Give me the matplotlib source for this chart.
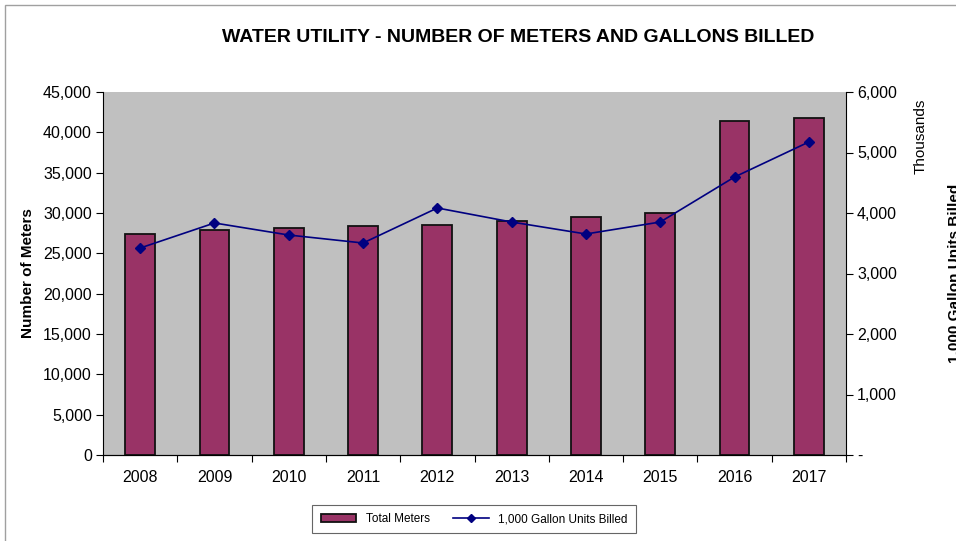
import matplotlib.pyplot as plt
import numpy as np
from matplotlib.ticker import FuncFormatter, FixedLocator
from matplotlib.lines import Line2D
from matplotlib.patches import Patch, Rectangle

plt.rcParams['font.family'] = ['Liberation Sans', 'DejaVu Sans']

years = ['2008', '2009', '2010', '2011', '2012', '2013', '2014', '2015', '2016', '2017']
total_meters = [27400, 27900, 28180, 28350, 28550, 29000, 29500, 29960, 41440, 41810]
# 1,000 gallon units billed (shown on the right axis in thousands)
units_billed = [3421000, 3835000, 3636000, 3504000, 4083000, 3851000, 3653000, 3851000, 4595000, 5174000]

fig = plt.figure(figsize=(9.56, 5.41), dpi=100)

# outer chart border (runs off the right / bottom edges)
fig.patches.append(Rectangle((5 / 956, -0.05), 1.2, (541 - 5) / 541 + 0.05,
                             transform=fig.transFigure, fill=False,
                             edgecolor='#a0a0a0', linewidth=1.0))

ax = fig.add_axes([103 / 956, 86 / 541, 743 / 956, 363 / 541])
ax.set_facecolor('#c0c0c0')

x = np.arange(len(years))
ax.bar(x, total_meters, width=0.4, color='#993366', edgecolor='#111111',
       linewidth=1.3, zorder=2)

ax.set_xlim(-0.5, len(years) - 0.5)
ax.set_ylim(0, 45000)
ax.set_yticks(np.arange(0, 45001, 5000))
ax.yaxis.set_major_formatter(FuncFormatter(lambda v, p: f'{int(v):,}'))
ax.set_xticks(x)
ax.set_xticklabels(years)
ax.xaxis.set_minor_locator(FixedLocator(np.arange(-0.5, len(years), 1.0)))
ax.tick_params(axis='x', which='major', length=0, pad=11, labelsize=11.5)
ax.tick_params(axis='x', which='minor', length=5, direction='out', width=0.8)
ax.tick_params(axis='y', length=5, direction='out', width=0.8, labelsize=11.5, pad=3)
ax.spines['top'].set_visible(False)
ax.spines['right'].set_visible(False)
ax.set_ylabel('Number of Meters', fontsize=11, fontweight='bold', labelpad=6)

ax2 = ax.twinx()
ax2.plot(x, np.array(units_billed) / 1000, color='#000080', linewidth=1.2,
         marker='D', markersize=5, zorder=3)
ax2.set_ylim(0, 6000)
ax2.set_yticks(np.arange(0, 6001, 1000))
ax2.yaxis.set_major_formatter(FuncFormatter(lambda v, p: '-' if v == 0 else f'{int(v):,}'))
ax2.tick_params(axis='y', length=5, direction='out', width=0.8, labelsize=11.5, pad=3)
ax2.spines['top'].set_visible(False)
ax2.spines['left'].set_visible(False)
ax2.set_ylabel('1,000 Gallon Units Billed', fontsize=11, fontweight='bold', labelpad=36)
fig.text(921 / 956, 1 - 136 / 541, 'Thousands', rotation=90, fontsize=11,
         ha='center', va='center')

fig.suptitle('WATER UTILITY - NUMBER OF METERS AND GALLONS BILLED',
             x=518 / 956, y=1 - 37 / 541, va='center', fontsize=14, fontweight='bold')

handles = [Patch(facecolor='#993366', edgecolor='#111111', linewidth=1.3),
           Line2D([0], [0], color='#000080', linewidth=1.2, marker='D', markersize=4)]
leg = fig.legend(handles, ['Total Meters', '1,000 Gallon Units Billed'],
                 loc='center', bbox_to_anchor=(474 / 956, 1 - 519 / 541), ncol=2,
                 fontsize=8.5, frameon=True, fancybox=False, handlelength=3,
                 handleheight=0.6, columnspacing=2.0, borderpad=0.7)
leg.get_frame().set_edgecolor('#404040')
leg.get_frame().set_linewidth(0.8)

fig.savefig('out.png', dpi=100)
